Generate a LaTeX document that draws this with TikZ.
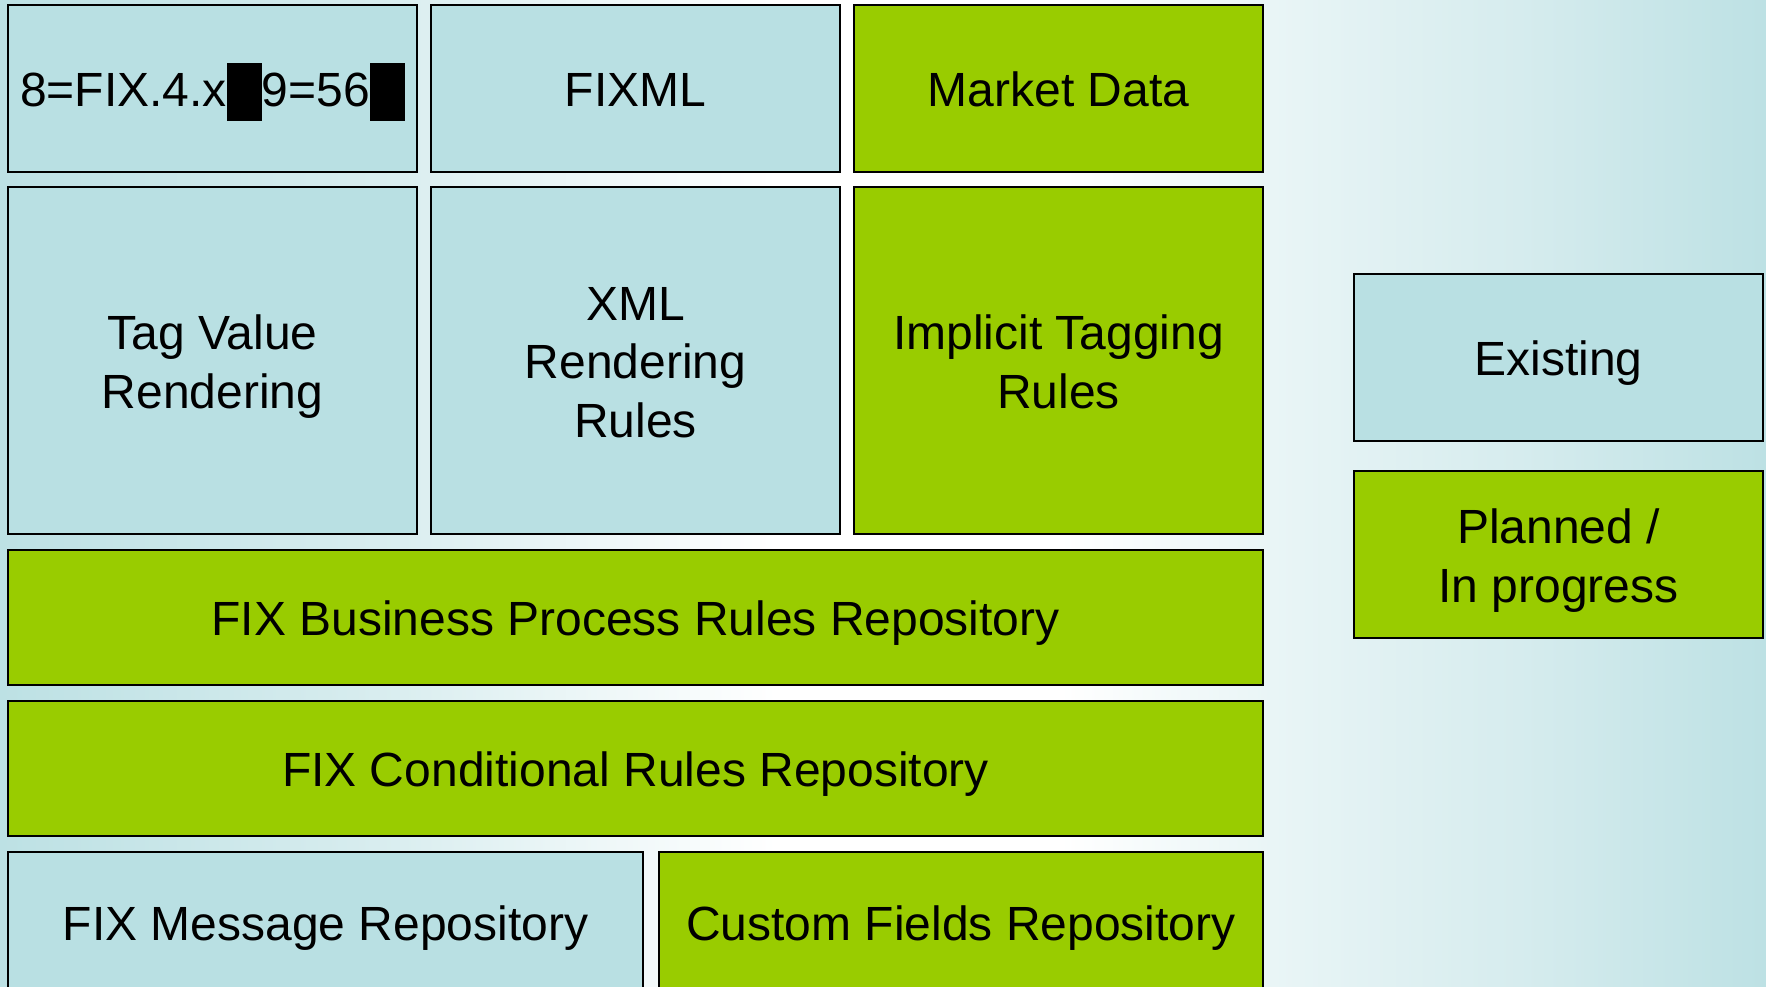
\documentclass[tikz,border=0pt]{standalone}
\usepackage{fontspec}
\setmainfont{Liberation Sans}
\usepackage{tikz}
\usetikzlibrary{positioning}
\usepackage{xcolor}

\definecolor{fixblue}{RGB}{185,224,227}
\definecolor{fixgreen}{RGB}{153,204,0}
\definecolor{bgblue}{RGB}{189,225,228}
\definecolor{bgpale}{RGB}{214,236,238}
\definecolor{bglight}{RGB}{233,245,246}

% page background, white band a bit right of the middle
\pgfdeclarehorizontalshading{fixbg}{100bp}{color(0bp)=(bgblue); color(25bp)=(bgblue);
  color(35bp)=(bgpale); color(47bp)=(white); color(55bp)=(white);
  color(61bp)=(bglight); color(68bp)=(bgpale); color(75bp)=(bgblue); color(100bp)=(bgblue)}

% the SOH separator as printed
\newcommand{\sohbox}{\rule[-7pt]{17.5pt}{29pt}}
% top and bottom of the line box as the slide sets it
\newcommand{\topstrut}{\rule{0pt}{27.4pt}}
\newcommand{\botstrut}{\rule[-9pt]{0pt}{9pt}}

\begin{document}
\begin{tikzpicture}[
  font=\fontsize{24}{29.3}\selectfont,
  node distance=7.5pt and 7pt,
  box/.style={draw=black, line width=0.8pt, inner sep=0pt, outer sep=0pt, align=flush center, text width=204.5pt,
    execute at begin node=\topstrut, execute at end node=\botstrut},
  have/.style={box, fill=fixblue},
  plan/.style={box, fill=fixgreen},
  short/.style={minimum height=83.5pt},
  tall/.style={minimum height=173.5pt},
  bar/.style={minimum height=67.5pt, text width=627.5pt}
]
\useasboundingbox (0,0) rectangle (883pt,-493pt);
\clip (0,0) rectangle (883pt,-493pt);
\shade[shading=fixbg] (0,0) rectangle (883pt,-493pt);

% top row
\node[have, short, anchor=north west] (tagline) at (4pt,-2.5pt) {8=FIX.4.x\sohbox9=56\sohbox};
\node[have, short, right=of tagline] (fixml) {FIXML};
\node[plan, short, right=of fixml] (mktdata) {Market Data};

% renderings
\node[have, tall, below=of tagline] (tagvalue) {Tag Value\\Rendering};
\node[have, tall, below=of fixml] (xmlrules) {XML\\Rendering\\Rules};
\node[plan, tall, below=of mktdata] (implicit) {Implicit Tagging\\Rules};

% repositories
\node[plan, bar, below=8pt of tagvalue.south west, anchor=north west] (bizproc) {FIX Business Process Rules Repository};
\node[plan, bar, below=8pt of bizproc.south west, anchor=north west] (condrules) {FIX Conditional Rules Repository};
\node[have, minimum height=70pt, text width=317.5pt, below=8pt of condrules.south west, anchor=north west] (msgrepo) {FIX Message Repository};
\node[plan, minimum height=70pt, text width=302pt, right=8pt of msgrepo] (custom) {Custom Fields Repository};

% legend
\node[have, short, anchor=north west] (existing) at (677pt,-137pt) {Existing};
\node[plan, short, below=15pt of existing] (planned) {Planned /\\In progress};
\end{tikzpicture}
\end{document}
